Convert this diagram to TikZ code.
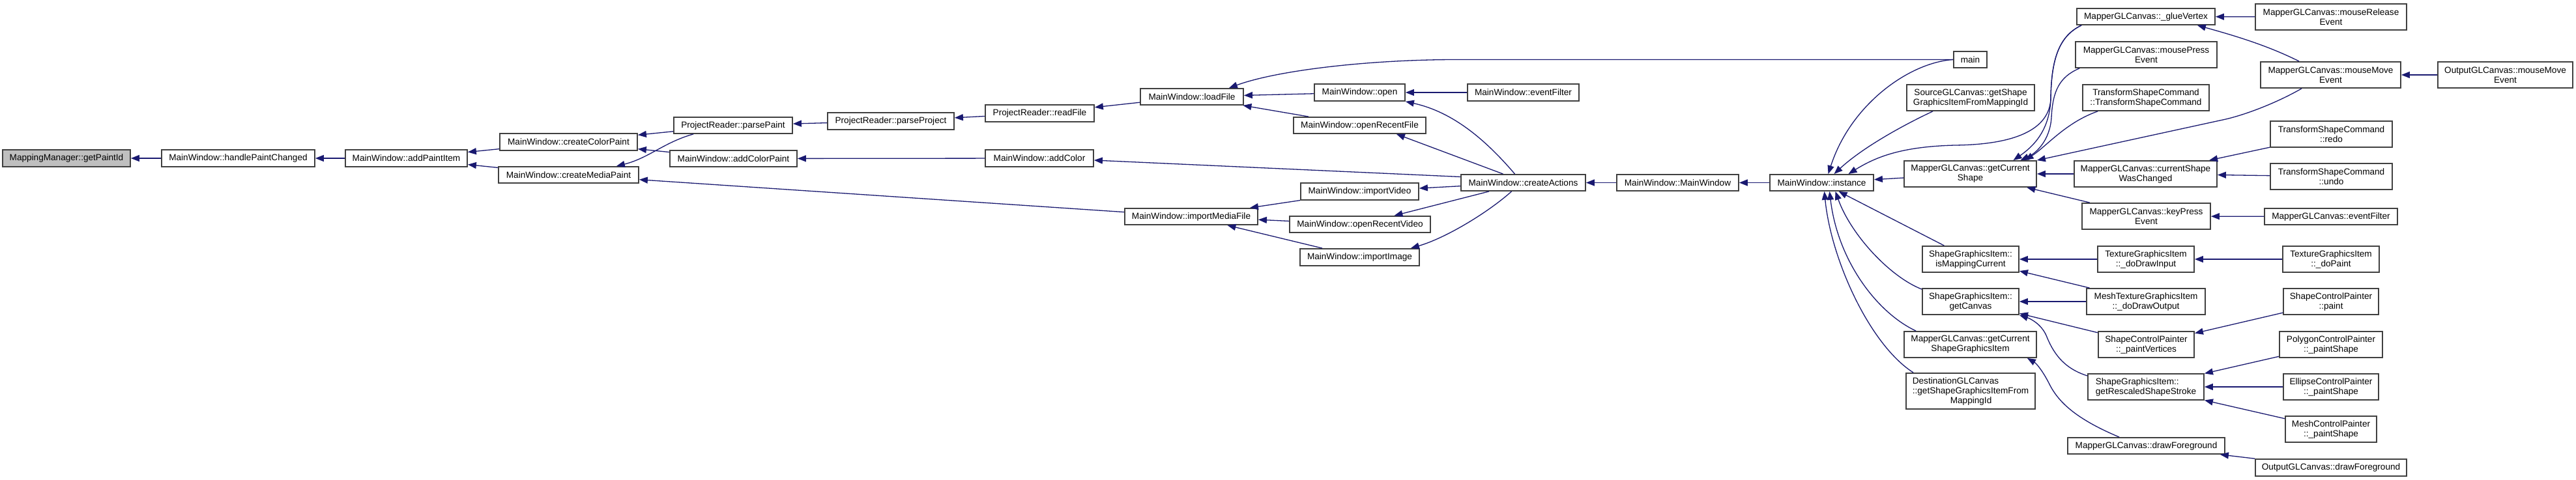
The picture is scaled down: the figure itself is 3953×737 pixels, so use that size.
\documentclass[tikz,border=0pt]{standalone}
\usepackage{fontspec}
\setmainfont{Liberation Sans}
\usetikzlibrary{arrows.meta,calc}
\definecolor{edgeblue}{RGB}{25,25,112}
\definecolor{boxline}{RGB}{64,64,64}
\definecolor{hl}{RGB}{191,191,191}
\newcommand\mkbox[7][]{\node[bx,#1,minimum width={(#5-#3)*0.5pt},minimum height={(#6-#4)*0.5pt}] (#2) at ({(#3+#5)/2},{(#4+#6)/2}) {#7};}
\begin{document}
\begin{tikzpicture}[x=0.5pt,y=-0.5pt,
  bx/.style={rectangle,draw=boxline,line width=0.9pt,fill=white,inner sep=0pt,align=center,font=\fontsize{6.8pt}{7.5pt}\selectfont},
  e/.style={draw=edgeblue,line width=0.65pt,-{Triangle[length=6.5pt,width=5pt]}}]
\fill[white] (0,0) rectangle (3953,737);
\useasboundingbox (0,0) rectangle (3953,737);
% nodes
\mkbox[fill=hl]{gpi}{4}{230}{200}{256}{MappingManager::getPaintId}
\mkbox{hpc}{248}{230}{483}{256}{MainWindow::handlePaintChanged}
\mkbox{api}{530}{230}{717}{256}{MainWindow::addPaintItem}
\mkbox{ccp}{767}{205}{978}{231}{MainWindow::createColorPaint}
\mkbox{cmp}{765}{256}{980}{281}{MainWindow::createMediaPaint}
\mkbox{ppt}{1034}{180}{1216}{205}{ProjectReader::parsePaint}
\mkbox{acp}{1028}{231}{1223}{256}{MainWindow::addColorPaint}
\mkbox{ppj}{1270}{173}{1464}{199}{ProjectReader::parseProject}
\mkbox{rdf}{1512}{161}{1679}{187}{ProjectReader::readFile}
\mkbox{ldf}{1750}{136}{1908}{161}{MainWindow::loadFile}
\mkbox{adc}{1512}{230}{1678}{256}{MainWindow::addColor}
\mkbox{imf}{1726}{320}{1930}{345}{MainWindow::importMediaFile}
\mkbox{opn}{2017}{129}{2156}{155}{MainWindow::open}
\mkbox{evf}{2252}{129}{2423}{155}{MainWindow::eventFilter}
\mkbox{orf}{1985}{180}{2188}{205}{MainWindow::openRecentFile}
\mkbox{cra}{2242}{268}{2433}{293}{MainWindow::createActions}
\mkbox{ivd}{1996}{281}{2177}{307}{MainWindow::importVideo}
\mkbox{orv}{1979}{332}{2195}{357}{MainWindow::openRecentVideo}
\mkbox{iim}{1995}{382}{2178}{408}{MainWindow::importImage}
\mkbox{mwm}{2481}{268}{2668}{293}{MainWindow::MainWindow}
\mkbox{ins}{2716}{268}{2875}{293}{MainWindow::instance}
\mkbox{mai}{2998}{79}{3049}{104}{main}
\mkbox{sgc}{2926}{130}{3122}{170}{SourceGLCanvas::getShape\\GraphicsItemFromMappingId}
\mkbox{gcs}{2922}{247}{3125}{287}{MapperGLCanvas::getCurrent\\Shape}
\mkbox{glv}{3187}{13}{3399}{38}{MapperGLCanvas::\_glueVertex}
\mkbox{mpe}{3185}{64}{3402}{104}{MapperGLCanvas::mousePress\\Event}
\mkbox{tsc}{3196}{130}{3390}{170}{TransformShapeCommand\\::TransformShapeCommand}
\mkbox{csw}{3183}{247}{3402}{287}{MapperGLCanvas::currentShape\\WasChanged}
\mkbox{kpe}{3195}{312}{3392}{352}{MapperGLCanvas::keyPress\\Event}
\mkbox{imc}{2950}{378}{3098}{418}{ShapeGraphicsItem::\\isMappingCurrent}
\mkbox{gcv}{2950}{443}{3098}{483}{ShapeGraphicsItem::\\getCanvas}
\mkbox{gcsgi}{2922}{509}{3125}{549}{MapperGLCanvas::getCurrent\\ShapeGraphicsItem}
\mkbox[align=left]{dst}{2925}{573}{3123}{628}{DestinationGLCanvas\\::getShapeGraphicsItemFrom\\\hspace*{29pt}MappingId}
\mkbox{ddi}{3219}{378}{3367}{418}{TextureGraphicsItem\\::\_doDrawInput}
\mkbox{ddo}{3202}{443}{3384}{483}{MeshTextureGraphicsItem\\::\_doDrawOutput}
\mkbox{pvx}{3220}{509}{3367}{549}{ShapeControlPainter\\::\_paintVertices}
\mkbox[align=left]{grs}{3204}{574}{3382}{614}{ShapeGraphicsItem::\\getRescaledShapeStroke}
\mkbox{mdf}{3173}{672}{3414}{697}{MapperGLCanvas::drawForeground}
\mkbox{mre}{3461}{6}{3693}{46}{MapperGLCanvas::mouseRelease\\Event}
\mkbox{mme}{3469}{95}{3684}{135}{MapperGLCanvas::mouseMove\\Event}
\mkbox{omm}{3741}{95}{3948}{135}{OutputGLCanvas::mouseMove\\Event}
\mkbox{rdo}{3484}{186}{3671}{226}{TransformShapeCommand\\::redo}
\mkbox{und}{3484}{251}{3671}{291}{TransformShapeCommand\\::undo}
\mkbox{mef}{3475}{320}{3679}{345}{MapperGLCanvas::eventFilter}
\mkbox{dpt}{3503}{378}{3651}{418}{TextureGraphicsItem\\::\_doPaint}
\mkbox{scp}{3504}{443}{3650}{483}{ShapeControlPainter\\::paint}
\mkbox{pcp}{3498}{509}{3656}{549}{PolygonControlPainter\\::\_paintShape}
\mkbox{ecp}{3504}{574}{3650}{614}{EllipseControlPainter\\::\_paintShape}
\mkbox{mcp}{3507}{639}{3647}{679}{MeshControlPainter\\::\_paintShape}
\mkbox{odf}{3461}{705}{3693}{731}{OutputGLCanvas::drawForeground}
% edges
\draw[e] (hpc) -- (gpi);
\draw[e] (api) -- (hpc);
\draw[e] (ccp) -- (api);
\draw[e] (cmp) -- (api);
\draw[e] (ppt) -- (ccp);
\draw[e] (acp) -- (ccp);
\draw[e] ($(ppt.south west)+(31,0)$) .. controls (1020,218) and (995,243) .. ($(cmp.north east)+(-35,0)$);
\draw[e] (imf) -- (cmp);
\draw[e] (ppj) -- (ppt);
\draw[e] (rdf) -- (ppj);
\draw[e] (ldf) -- (rdf);
\draw[e] (mai.west) -- (2236,91.5) .. controls (2100,91.5) and (1960,108) .. ($(ldf.north east)+(-23,0)$);
\draw[e] (opn) -- (ldf);
\draw[e] (orf) -- (ldf);
\draw[e] (evf) -- (opn);
\draw[e] ($(cra.north)+(-13,0)$) .. controls (2280,215) and (2230,172) .. (opn.south east);
\draw[e] ($(cra.north)+(-31,0)$) -- ($(orf.south east)+(-46,0)$);
\draw[e] ($(cra.west)+(0,-9)$) -- ($(adc.east)+(0,3)$);
\draw[e] (adc) -- (acp);
\draw[e] (cra) -- (ivd);
\draw[e] (cra) -- (orv);
\draw[e] ($(cra.south)+(-18,0)$) .. controls (2285,325) and (2220,365) .. ($(iim.north east)+(-14,0)$);
\draw[e] (ivd) -- (imf);
\draw[e] (orv) -- (imf);
\draw[e] (iim) -- (imf);
\draw[e] (mwm) -- (cra);
\draw[e] (ins) -- (mwm);
\draw[e] (mai.west) .. controls (2930,96) and (2840,160) .. ($(ins.north)+(10,0)$);
\draw[e] ($(sgc.south)+(-58,0)$) .. controls (2925,190) and (2860,225) .. ($(ins.north)+(19,0)$);
\draw[e] ($(glv.south west)+(8,0)$) .. controls (3160,55) and (3148,90) .. (3147,150) .. controls (3146,200) and (3090,222) .. (3000,223) .. controls (2920,225) and (2880,240) .. ($(ins.north)+(41,0)$);
\draw[e] ($(glv.south west)+(8,0)$) .. controls (3160,55) and (3148,90) .. (3147,150) .. controls (3146,200) and (3120,225) .. ($(gcs.north)+(66,0)$);
\draw[e] ($(mpe.south west)+(7,0)$) .. controls (3160,118) and (3150,140) .. (3148,180) .. controls (3146,215) and (3125,235) .. ($(gcs.north)+(77,0)$);
\draw[e] ($(tsc.south west)+(24,0)$) .. controls (3170,188) and (3140,225) .. ($(gcs.north)+(84,0)$);
\draw[e] ($(mme.south)+(-44.5,0)$) .. controls (3490,160) and (3440,178) .. (3411,184) -- (gcs.north east);
\draw[e] (gcs) -- (ins);
\draw[e] (csw) -- (gcs);
\draw[e] (kpe) -- (gcs);
\draw[e] (imc) -- (ins);
\draw[e] ($(gcv.north west)+(0,2)$) .. controls (2900,425) and (2840,360) .. ($(ins.south)+(21,0)$);
\draw[e] ($(gcsgi.north west)+(19,0)$) .. controls (2880,480) and (2820,400) .. ($(ins.south)+(12,0)$);
\draw[e] ($(dst.north west)+(12,0)$) .. controls (2870,530) and (2810,400) .. ($(ins.south)+(4,0)$);
\draw[e] (ddi) -- (imc);
\draw[e] (ddo) -- (imc);
\draw[e] (ddo) -- (gcv);
\draw[e] (pvx) -- (gcv);
\draw[e] ($(grs.west)+(0,-17)$) .. controls (3165,565) and (3150,540) .. (3140,515) .. controls (3132,497) and (3115,489) .. (gcv.south east);
\draw[e] ($(mdf.north)+(-41.5,0)$) .. controls (3190,645) and (3160,620) .. (3145,590) .. controls (3135,570) and (3125,558) .. ($(gcsgi.south east)+(-15,0)$);
\draw[e] (mre) -- (glv);
\draw[e] ($(mme.north)+(-48.5,0)$) .. controls (3480,70) and (3430,55) .. ($(glv.south east)+(-28,0)$);
\draw[e] (omm) -- (mme);
\draw[e] (rdo) -- (csw);
\draw[e] (und) -- (csw);
\draw[e] (mef) -- (kpe);
\draw[e] (dpt) -- (ddi);
\draw[e] (scp) -- (pvx);
\draw[e] (pcp) -- (grs);
\draw[e] (ecp) -- (grs);
\draw[e] (mcp) -- (grs);
\draw[e] (odf) -- (mdf);
\end{tikzpicture}
\end{document}
